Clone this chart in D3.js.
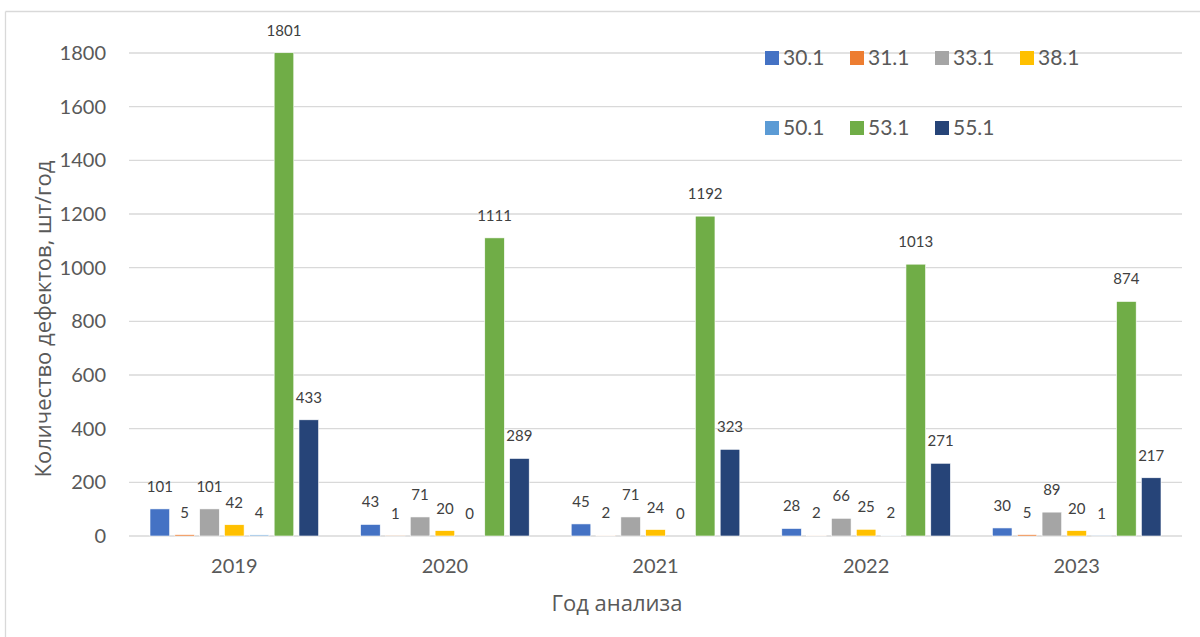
<!DOCTYPE html>
<html lang="ru">
<head>
<meta charset="utf-8">
<title>Количество дефектов по годам</title>
<script src="https://cdn.jsdelivr.net/npm/d3@7"></script>
<style>
  html, body { margin: 0; padding: 0; background: #fff; }
  svg { display: block; font-family: Lato, "Noto Sans", "Open Sans", sans-serif; }
</style>
</head>
<body>
<svg id="chart" width="1200" height="637"></svg>
<script>
// Years on the category axis
const years = ["2019", "2020", "2021", "2022", "2023"];
// Defect codes (one bar per code inside each year)
const codes = ["30.1", "31.1", "33.1", "38.1", "50.1", "53.1", "55.1"];
const colors = ["#4472C4", "#ED7D31", "#A5A5A5", "#FFC000", "#5B9BD5", "#70AD47", "#264478"];

// Defects per year, one array per code (2019..2023)
const v30_1 = [101, 43, 45, 28, 30];
const v31_1 = [5, 1, 2, 2, 5];
const v33_1 = [101, 71, 71, 66, 89];
const v38_1 = [42, 20, 24, 25, 20];
const v50_1 = [4, 0, 0, 2, 1];
const v53_1 = [1801, 1111, 1192, 1013, 874];
const v55_1 = [433, 289, 323, 271, 217];

const yTicks = [0, 200, 400, 600, 800, 1000, 1200, 1400, 1600, 1800];

const seriesValues = [v30_1, v31_1, v33_1, v38_1, v50_1, v53_1, v55_1];
const rows = years.map((yr, i) => ({
  year: yr,
  bars: codes.map((c, k) => ({ code: c, value: seriesValues[k][i], color: colors[k] }))
}));

const svg = d3.select("#chart");
const textColor = "#595959";
const gridColor = "#D9D9D9";

// Chart frame (top and left edges are visible in the page area)
svg.append("line").attr("x1", 5.5).attr("x2", 1200).attr("y1", 11.5).attr("y2", 11.5)
  .attr("stroke", gridColor).attr("stroke-width", 1.3);
svg.append("line").attr("x1", 5.5).attr("x2", 5.5).attr("y1", 11.5).attr("y2", 637)
  .attr("stroke", gridColor).attr("stroke-width", 1.3);

const plot = { left: 129, right: 1182, top: 53, bottom: 536 };

const y = d3.scaleLinear().domain([0, 1800]).range([plot.bottom, plot.top]);
const x0 = d3.scaleBand().domain(years).range([plot.left, plot.right]).padding(0);
const groupInset = 21;
const x1 = d3.scaleBand().domain(codes)
  .range([groupInset, x0.bandwidth() - groupInset]).paddingInner(0.21).paddingOuter(0);

// Horizontal gridlines
svg.append("g").selectAll("line").data(yTicks).join("line")
  .attr("x1", plot.left).attr("x2", plot.right)
  .attr("y1", d => y(d)).attr("y2", d => y(d))
  .attr("stroke", gridColor).attr("stroke-width", 1.3);

// Y axis tick labels
const yAxis = d3.axisLeft(y).tickValues(yTicks).tickFormat(d3.format("d")).tickSize(0).tickPadding(0);
const gy = svg.append("g").attr("transform", `translate(${106},0)`).call(yAxis);
gy.select(".domain").remove();
gy.selectAll("text").attr("fill", textColor).style("font-size", "20px")
  .style("font-family", "Lato, 'Noto Sans', sans-serif");

// X axis labels
const xAxis = d3.axisBottom(x0).tickSize(0).tickPadding(0);
const gx = svg.append("g").attr("transform", `translate(0,${plot.bottom})`).call(xAxis);
gx.select(".domain").remove();
gx.selectAll("text").attr("fill", textColor).style("font-size", "20px")
  .attr("dy", null).attr("y", 37)
  .style("font-family", "Lato, 'Noto Sans', sans-serif");

// Bars
const groups = svg.append("g").selectAll("g").data(rows).join("g")
  .attr("transform", d => `translate(${x0(d.year)},0)`);

groups.selectAll("rect").data(d => d.bars).join("rect")
  .attr("x", d => x1(d.code))
  .attr("width", x1.bandwidth())
  .attr("y", d => y(d.value))
  .attr("height", d => y(0) - y(d.value))
  .attr("fill", d => d.color)
  .attr("stroke", "#ffffff").attr("stroke-width", 0.6);

// Value labels above bars
groups.selectAll("text.val").data(d => d.bars).join("text")
  .attr("class", "val")
  .attr("x", d => x1(d.code) + x1.bandwidth() / 2)
  .attr("y", d => y(d.value) - 17)
  .attr("text-anchor", "middle")
  .attr("fill", "#404040")
  .style("font-size", "15px")
  .text(d => d.value);

// Legend: two rows
const legendCols = [765, 850, 935, 1020];
const legendRows = [58, 128];
const legend = svg.append("g").selectAll("g").data(codes).join("g")
  .attr("transform", (d, i) => {
    const r = i < 4 ? 0 : 1;
    const c = i < 4 ? i : i - 4;
    return `translate(${legendCols[c]},${legendRows[r]})`;
  });
legend.append("rect").attr("x", 0).attr("y", -7).attr("width", 14).attr("height", 14)
  .attr("fill", (d, i) => colors[i]);
legend.append("text").attr("x", 18).attr("y", 0).attr("dy", "0.35em")
  .attr("fill", textColor).style("font-size", "21px").text(d => d);

// Axis titles
svg.append("text")
  .attr("transform", `translate(51,${319}) rotate(-90)`)
  .attr("text-anchor", "middle")
  .attr("fill", textColor)
  .style("font-size", "22px")
  .style("font-family", "'Open Sans', 'Noto Sans', sans-serif")
  .text("Количество дефектов, шт/год");

svg.append("text")
  .attr("x", 617).attr("y", 611)
  .attr("text-anchor", "middle")
  .attr("fill", textColor)
  .style("font-size", "22px")
  .style("font-family", "'Open Sans', 'Noto Sans', sans-serif")
  .text("Год анализа");
</script>
</body>
</html>
